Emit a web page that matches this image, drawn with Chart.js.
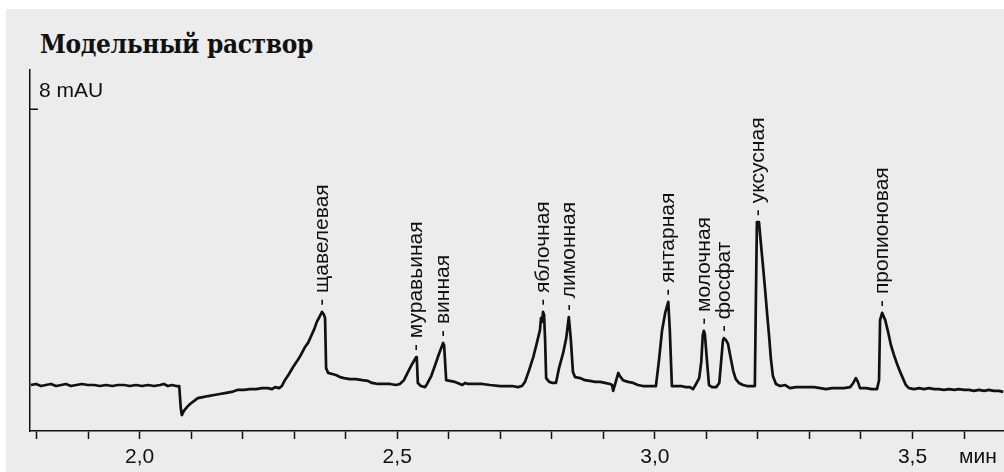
<!DOCTYPE html>
<html>
<head>
<meta charset="utf-8">
<script src="https://cdn.jsdelivr.net/npm/chart.js@4.4.1/dist/chart.umd.min.js"></script>
<style>
  html, body { margin: 0; padding: 0; background: #ffffff; width: 1004px; height: 472px; overflow: hidden; }
  #panel { position: absolute; left: 6px; top: 9px; width: 998px; height: 463px; background: #ececec; }
  #title { position: absolute; left: 34px; top: 22px; margin: 0; font-family: "DejaVu Serif Condensed", "DejaVu Serif", serif; font-stretch: condensed; font-weight: bold; font-size: 26px; letter-spacing: -0.35px; line-height: 1; color: #111; white-space: nowrap; }
  canvas { position: absolute; left: 0; top: 0; }
</style>
</head>
<body>
<div id="panel">
  <h1 id="title">Модельный раствор</h1>
  <canvas id="c" width="998" height="463"></canvas>
</div>
<script>
// ---- data (time in min, absorbance in mAU) ----
const times = [
  1.789, 1.799, 1.809, 1.818, 1.828, 1.838, 1.848, 1.857, 1.867, 1.877,
  1.888, 1.900, 1.912, 1.923, 1.935, 1.947, 1.958, 1.970, 1.981, 1.993,
  2.005, 2.016, 2.028, 2.040, 2.047, 2.055, 2.063, 2.071, 2.077, 2.080,
  2.082, 2.086, 2.092, 2.098, 2.106, 2.113, 2.123, 2.133, 2.145, 2.156,
  2.168, 2.179, 2.191, 2.203, 2.214, 2.226, 2.238, 2.249, 2.257, 2.263,
  2.271, 2.276, 2.282, 2.290, 2.298, 2.306, 2.313, 2.321, 2.327, 2.333,
  2.339, 2.344, 2.350, 2.354, 2.358, 2.360, 2.362, 2.366, 2.374, 2.381,
  2.389, 2.397, 2.408, 2.420, 2.432, 2.443, 2.451, 2.463, 2.474, 2.486,
  2.498, 2.505, 2.513, 2.521, 2.529, 2.537, 2.538, 2.540, 2.546, 2.554,
  2.558, 2.566, 2.573, 2.581, 2.589, 2.591, 2.595, 2.602, 2.612, 2.622,
  2.626, 2.632, 2.637, 2.651, 2.665, 2.680, 2.700, 2.711, 2.723, 2.734,
  2.742, 2.748, 2.756, 2.764, 2.771, 2.777, 2.779, 2.781, 2.783, 2.785,
  2.787, 2.789, 2.795, 2.802, 2.808, 2.814, 2.822, 2.828, 2.833, 2.837,
  2.841, 2.845, 2.855, 2.864, 2.874, 2.884, 2.894, 2.903, 2.913, 2.917,
  2.919, 2.923, 2.929, 2.932, 2.938, 2.948, 2.958, 2.967, 2.977, 2.991,
  3.002, 3.008, 3.014, 3.020, 3.026, 3.029, 3.033, 3.041, 3.051, 3.060,
  3.068, 3.074, 3.080, 3.086, 3.090, 3.093, 3.095, 3.097, 3.101, 3.105,
  3.111, 3.119, 3.125, 3.128, 3.132, 3.134, 3.138, 3.142, 3.146, 3.152,
  3.157, 3.163, 3.171, 3.179, 3.189, 3.194, 3.196, 3.198, 3.202, 3.206,
  3.210, 3.214, 3.218, 3.222, 3.225, 3.229, 3.235, 3.243, 3.253, 3.262,
  3.274, 3.286, 3.297, 3.309, 3.321, 3.332, 3.344, 3.355, 3.367, 3.379,
  3.385, 3.390, 3.394, 3.398, 3.410, 3.421, 3.431, 3.435, 3.437, 3.441,
  3.447, 3.453, 3.458, 3.464, 3.470, 3.476, 3.482, 3.487, 3.493, 3.503,
  3.513, 3.522, 3.532, 3.542, 3.551, 3.561, 3.571, 3.581, 3.590, 3.600,
  3.610, 3.619, 3.629, 3.639, 3.648, 3.658, 3.668, 3.676
];
const absorbance = [
  0.00, 0.03, -0.03, 0.00, 0.03, -0.03, 0.00, 0.03, -0.03, 0.00,
  0.03, 0.00, 0.00, -0.03, 0.00, -0.03, 0.00, 0.00, -0.03, 0.00,
  -0.03, 0.00, -0.03, 0.00, 0.03, -0.03, 0.00, -0.03, -0.03, -0.67,
  -0.87, -0.75, -0.64, -0.55, -0.46, -0.38, -0.35, -0.32, -0.29, -0.26,
  -0.23, -0.20, -0.14, -0.14, -0.12, -0.12, -0.09, -0.09, -0.12, -0.06,
  -0.09, -0.03, 0.14, 0.32, 0.52, 0.70, 0.87, 1.10, 1.22, 1.42,
  1.62, 1.83, 2.00, 2.12, 2.03, 1.94, 0.49, 0.35, 0.32, 0.29,
  0.23, 0.20, 0.17, 0.17, 0.14, 0.12, 0.06, 0.03, 0.03, 0.03,
  0.00, 0.03, 0.14, 0.38, 0.61, 0.81, 0.78, 0.06, -0.03, -0.06,
  0.03, 0.26, 0.55, 0.90, 1.22, 1.16, 0.14, 0.12, 0.09, 0.03,
  0.00, 0.06, 0.03, 0.03, 0.03, 0.00, -0.03, -0.03, -0.03, -0.06,
  -0.03, 0.09, 0.43, 0.81, 1.22, 1.59, 1.94, 1.83, 2.12, 2.03,
  1.30, 0.20, 0.09, 0.06, 0.06, 0.49, 0.93, 1.36, 1.97, 1.30,
  0.38, 0.23, 0.20, 0.14, 0.12, 0.09, 0.09, 0.06, 0.03, 0.00,
  -0.17, 0.03, 0.35, 0.26, 0.14, 0.09, 0.06, 0.00, -0.03, -0.03,
  -0.03, 0.72, 1.59, 2.09, 2.41, 1.59, -0.03, -0.03, -0.03, -0.06,
  -0.06, -0.12, 0.03, 0.20, 0.67, 1.45, 1.57, 1.48, 0.72, 0.00,
  -0.06, -0.06, 0.06, 0.58, 1.28, 1.36, 1.30, 1.19, 0.87, 0.41,
  0.17, 0.06, 0.00, -0.03, -0.03, -0.03, 2.46, 4.72, 4.72, 4.06,
  3.42, 2.75, 2.03, 1.36, 0.78, 0.26, 0.03, -0.03, 0.00, -0.09,
  -0.06, -0.06, -0.06, -0.06, -0.09, -0.12, -0.09, -0.09, -0.09, -0.06,
  0.06, 0.20, 0.09, -0.09, -0.09, -0.12, -0.12, 0.14, 1.88, 2.09,
  1.88, 1.51, 1.16, 0.87, 0.61, 0.38, 0.17, 0.00, -0.09, -0.12,
  -0.09, -0.12, -0.09, -0.12, -0.12, -0.14, -0.12, -0.14, -0.12, -0.14,
  -0.14, -0.17, -0.14, -0.17, -0.14, -0.17, -0.17, -0.20
];

// peak annotations
const peakNames = ["щавелевая", "муравьиная", "винная", "яблочная", "лимонная", "янтарная", "молочная", "фосфат", "уксусная", "пропионовая"];
const peakTimes = [2.354, 2.537, 2.589, 2.783, 2.833, 3.026, 3.095, 3.134, 3.200, 3.441];
const peakHeights = [2.12, 0.81, 1.22, 2.12, 1.97, 2.41, 1.57, 1.36, 4.72, 2.09];

// axes
const xTickValues = [1.8, 1.9, 2.0, 2.1, 2.2, 2.3, 2.4, 2.5, 2.6, 2.7, 2.8, 2.9, 3.0, 3.1, 3.2, 3.3, 3.4, 3.5, 3.6];
const xLabelValues = [2.0, 2.5, 3.0, 3.5];
const xUnitLabel = "мин";
const xUnitAt = 3.627;
const yTickValues = [8];
const yUnit = "mAU";
const xRange = [1.7874, 3.6775];
const yRange = [-1.333, 9.13];

const INK = '#111111';
const SANS = '"Liberation Sans", Arial, Helvetica, sans-serif';

const peakLabelPlugin = {
  id: 'peakLabels',
  afterDatasetsDraw(chart) {
    const ctx = chart.ctx, xs = chart.scales.x, ys = chart.scales.y;
    ctx.save();
    ctx.fillStyle = INK;
    ctx.font = '21px ' + SANS;
    ctx.textAlign = 'left';
    ctx.textBaseline = 'middle';
    peakNames.forEach((name, i) => {
      const px = xs.getPixelForValue(peakTimes[i]);
      const py = ys.getPixelForValue(peakHeights[i]) - 6;
      ctx.save();
      ctx.translate(px, py);
      ctx.rotate(-Math.PI / 2);
      ctx.fillText('- ' + name, 0, 0);
      ctx.restore();
    });
    ctx.restore();
  }
};

const yTickMarkPlugin = {
  id: 'yTickMarks',
  afterDraw(chart) {
    const ctx = chart.ctx, ys = chart.scales.y, left = chart.chartArea.left;
    ctx.save();
    ctx.strokeStyle = INK;
    ctx.lineWidth = 1.5;
    yTickValues.forEach(v => {
      const py = Math.round(ys.getPixelForValue(v)) + 0.25;
      ctx.beginPath();
      ctx.moveTo(left, py);
      ctx.lineTo(left + 8, py);
      ctx.stroke();
    });
    ctx.restore();
  }
};

new Chart(document.getElementById('c'), {
  type: 'line',
  data: {
    datasets: [{
      data: times.map((t, i) => ({ x: t, y: absorbance[i] })),
      borderColor: INK,
      borderWidth: 2.7,
      pointRadius: 0,
      tension: 0,
      fill: false,
      borderJoinStyle: 'round'
    }]
  },
  options: {
    responsive: false,
    devicePixelRatio: 1,
    animation: false,
    layout: { padding: { left: 24, right: 0, top: 61, bottom: 0 } },
    plugins: { legend: { display: false }, tooltip: { enabled: false }, title: { display: false } },
    scales: {
      x: {
        type: 'linear',
        min: xRange[0], max: xRange[1],
        afterBuildTicks: (s) => { s.ticks = xTickValues.concat([xUnitAt]).map(v => ({ value: v })); },
        afterFit: (s) => { s.height = 41; },
        border: { display: true, color: INK, width: 1.5 },
        grid: {
          drawOnChartArea: false, drawTicks: true, tickLength: 8, tickWidth: 1.5,
          tickColor: (c) => (c.tick && c.tick.value === xUnitAt) ? 'rgba(0,0,0,0)' : INK
        },
        ticks: {
          autoSkip: false, maxRotation: 0, minRotation: 0, padding: 6,
          color: INK, font: { family: SANS, size: 21 },
          callback: (v) => {
            if (v === xUnitAt) return xUnitLabel;
            return xLabelValues.some(l => Math.abs(l - v) < 1e-6) ? v.toFixed(1).replace('.', ',') : '';
          }
        }
      },
      y: {
        type: 'linear',
        min: yRange[0], max: yRange[1],
        afterBuildTicks: (s) => { s.ticks = yTickValues.map(v => ({ value: v })); },
        afterFit: (s) => { s.width = 0; },
        border: { display: true, color: INK, width: 1.5 },
        grid: { display: true, drawOnChartArea: false, drawTicks: false },
        ticks: {
          mirror: true, padding: 9, labelOffset: -18,
          color: INK, font: { family: SANS, size: 21 },
          callback: (v) => v + ' ' + yUnit
        }
      }
    }
  },
  plugins: [peakLabelPlugin, yTickMarkPlugin]
});
</script>
</body>
</html>
